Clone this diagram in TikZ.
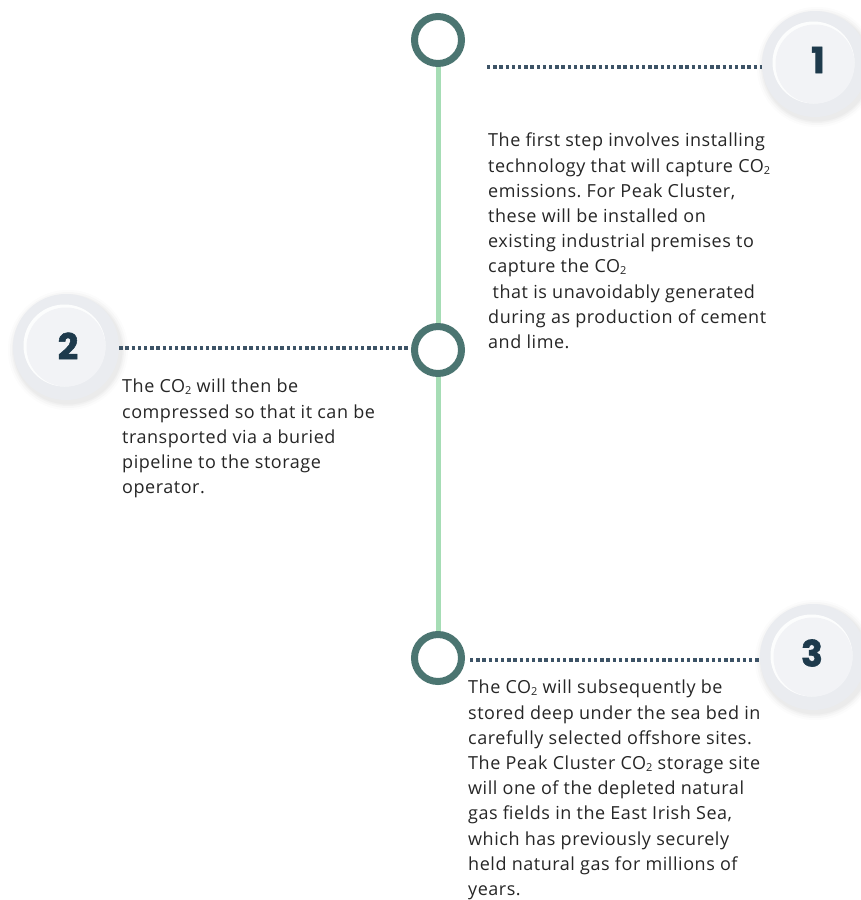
\documentclass[tikz,border=0pt]{standalone}
\usepackage{fontspec}
\setmainfont{Open Sans}[LetterSpace=3]
\newfontfamily\numfont{Poppins}[BoldFeatures={FakeBold=1.6}]
\definecolor{ringc}{HTML}{4B7571}
\definecolor{linec}{HTML}{A6DDB5}
\definecolor{dotc}{HTML}{3D5366}
\definecolor{numc}{HTML}{1E3A4C}
\definecolor{textc}{HTML}{262626}
\definecolor{discout}{HTML}{EAECF0}
\definecolor{discin}{HTML}{F2F3F6}
\newcommand\cotwo{CO\raisebox{-0.2ex}{\fontsize{11}{11}\selectfont 2}}
\frenchspacing
\begin{document}
\begin{tikzpicture}[x=1pt,y=-1pt,
  ring/.style={circle, draw=ringc, line width=7pt, minimum size=47pt, inner sep=0pt, fill=white},
  disc/.style={circle, minimum size=106pt, inner sep=0pt, fill=discout},
  dotline/.style={draw=dotc, line width=3.2pt, dash pattern=on 3.4pt off 2.8pt},
  body/.style={anchor=north west, align=left, inner sep=0pt, font=\fontsize{18}{25.2}\selectfont, text=textc},
  num/.style={font=\numfont\bfseries\fontsize{36}{36}\selectfont, text=numc, inner sep=0pt}]
\useasboundingbox (0,0) rectangle (860,900);
\fill[white] (0,0) rectangle (860,900);

% shadows of discs
\foreach \cx/\cy in {815/64, 66/347, 813/657}{
  \foreach \r/\o in {60/0.02, 58/0.03, 56/0.035, 54.5/0.04}{
    \fill[black!60, opacity=\o] (\cx+2,\cy+3) circle[radius=\r];
  }
}

% discs
\node[disc] (n1) at (815,64) {};
\node[disc] (n2) at (66,347) {};
\node[disc] (n3) at (813,657) {};
\foreach \n in {n1,n2,n3}{
  \fill[white, opacity=0.9] ([shift={(-1.5,-1.5)}]\n.center) circle[radius=41];
  \fill[discin] (\n.center) circle[radius=39.5];
}
\node[num] (t1) at (818,60) {1};
\node[num] (t2) at (68,346) {2};
\node[num] (t3) at (812,653) {3};

% rings
\node[ring] (r1) at (438,40) {};
\node[ring] (r2) at (438,350) {};
\node[ring] (r3) at (438,658) {};

% vertical line
\draw[linec, line width=5pt] (r1) -- (r2);
\draw[linec, line width=5pt] (r2) -- (r3);

% dotted connectors
\coordinate (c1) at (487,67);
\draw[dotline] (c1) -- (c1 -| n1.west);
\coordinate (c2) at (410,348);
\draw[dotline] (c2 -| n2.east) -- (c2);
\coordinate (c3) at (470,660);
\draw[dotline] (c3) -- (c3 -| n3.west);

% texts
\node[body] (b1) at (488,133) {The first step involves installing\\
technology that will capture \cotwo\\
emissions. For Peak Cluster,\\
these will be installed on\\
existing industrial premises to\\
capture the \cotwo\\
\hspace{0.25em}that is unavoidably generated\\
during as production of cement\\
and lime.};

\node[body] (b2) at (122,379) {The \cotwo{} will then be\\
compressed so that it can be\\
transported via a buried\\
pipeline to the storage\\
operator.};

\node[body] (b3) at (468,680) {The \cotwo{} will subsequently be\\
stored deep under the sea bed in\\
carefully selected offshore sites.\\
The Peak Cluster \cotwo{} storage site\\
will one of the depleted natural\\
gas fields in the East Irish Sea,\\
which has previously securely\\
held natural gas for millions of\\
years.};
\end{tikzpicture}
\end{document}
